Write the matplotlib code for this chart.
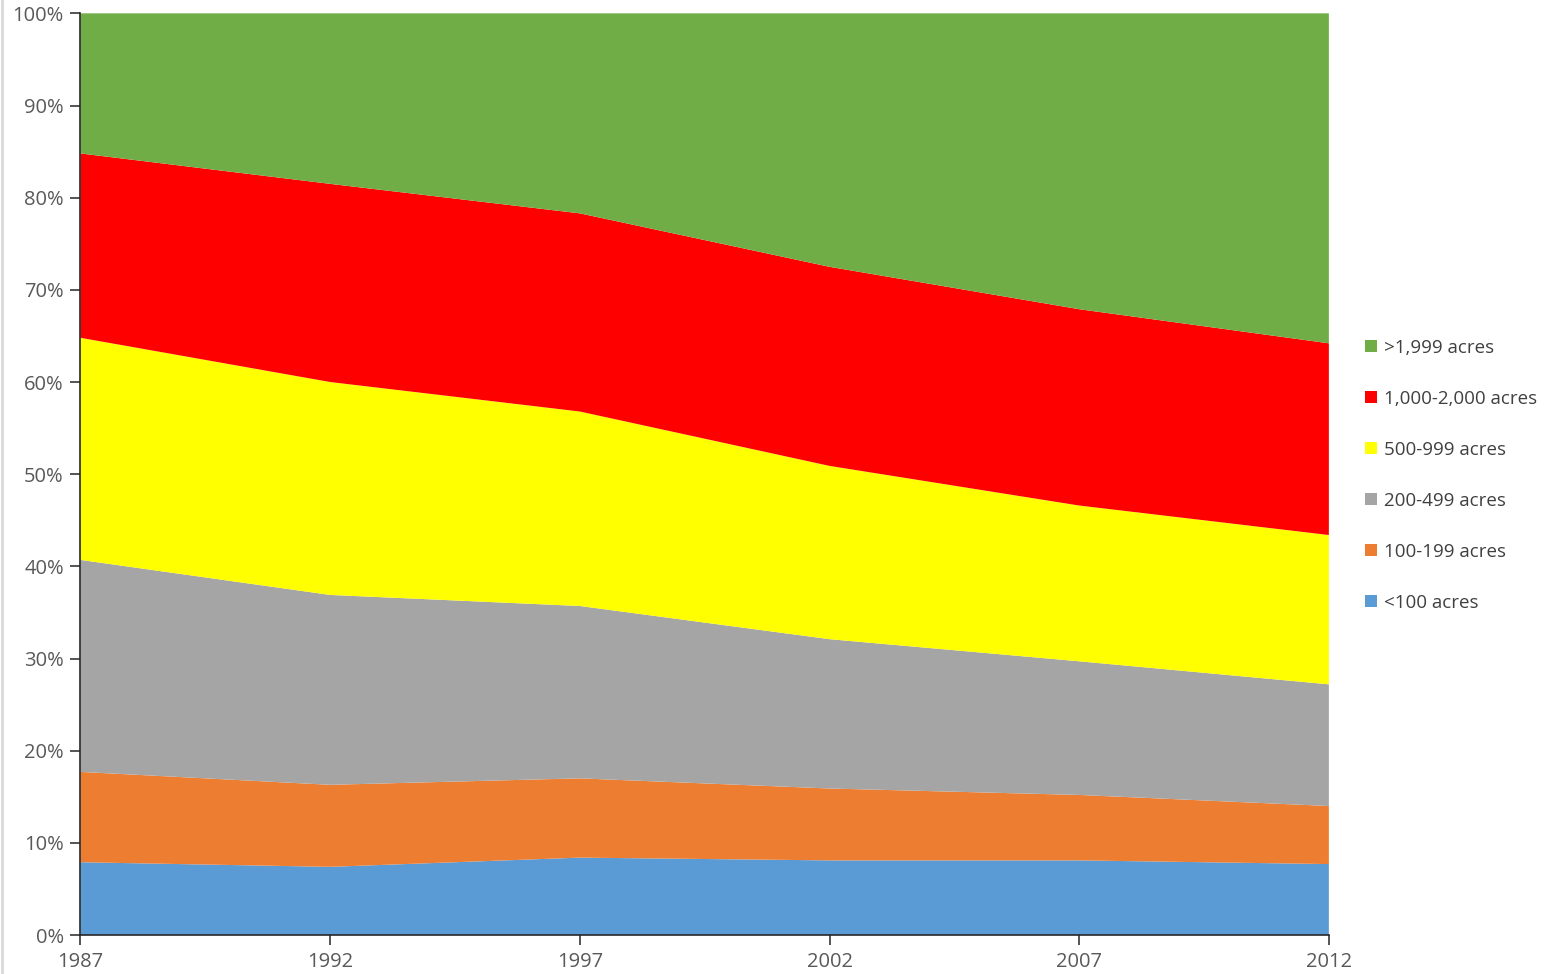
import numpy as np
import matplotlib.pyplot as plt
from matplotlib.patches import Patch
from matplotlib.lines import Line2D

plt.rcParams['font.family'] = ['Open Sans', 'DejaVu Sans']

years = [1987, 1992, 1997, 2002, 2007, 2012]
labels = ['<100 acres', '100-199 acres', '200-499 acres', '500-999 acres',
          '1,000-2,000 acres', '>1,999 acres']
colors = ['#5b9bd5', '#ed7d31', '#a5a5a5', '#ffff00', '#ff0000', '#70ad47']

# shares in percent
lt100 = [7.9, 7.4, 8.4, 8.1, 8.1, 7.7]
a100_199 = [9.8, 8.9, 8.6, 7.8, 7.1, 6.3]
a200_499 = [23.0, 20.6, 18.7, 16.2, 14.5, 13.2]
a500_999 = [24.1, 23.1, 21.1, 18.8, 16.9, 16.2]
a1000_2000 = [20.0, 21.5, 21.5, 21.6, 21.3, 20.8]
gt1999 = [15.2, 18.5, 21.7, 27.5, 32.1, 35.8]

series = [lt100, a100_199, a200_499, a500_999, a1000_2000, gt1999]

fig = plt.figure(figsize=(15.47, 9.74), dpi=100)
ax = fig.add_axes([0.052, 0.04, 0.807, 0.9463])

ax.stackplot(years, *series, colors=colors, labels=labels, linewidth=0)

ax.set_xlim(years[0], years[-1])
ax.set_ylim(0, 100)
ax.set_xticks(years)
ax.set_yticks(np.arange(0, 101, 10))
ax.set_yticklabels([f'{v}%' for v in range(0, 101, 10)])

for side in ['top', 'right']:
    ax.spines[side].set_visible(False)
for side in ['left', 'bottom']:
    ax.spines[side].set_color('#262626')
    ax.spines[side].set_linewidth(1.2)

ax.tick_params(axis='both', colors='#262626', labelcolor='#595959',
               labelsize=14.5, length=7, width=1.1, direction='out')
ax.tick_params(axis='x', pad=5)
ax.tick_params(axis='y', pad=5)

handles = [Patch(facecolor=c, edgecolor='none') for c in colors][::-1]
fig.legend(handles, labels[::-1], loc='center left',
           bbox_to_anchor=(0.8715, 0.512), frameon=False,
           fontsize=13.5, labelcolor='#404040',
           handlelength=0.65, handleheight=0.65, handletextpad=0.35,
           labelspacing=1.76)

# thin border at the left edge
fig.add_artist(Line2D([0.0015, 0.0015], [0, 1], color='#d9d9d9', lw=2,
                      transform=fig.transFigure))

fig.savefig('out.png', dpi=100)
